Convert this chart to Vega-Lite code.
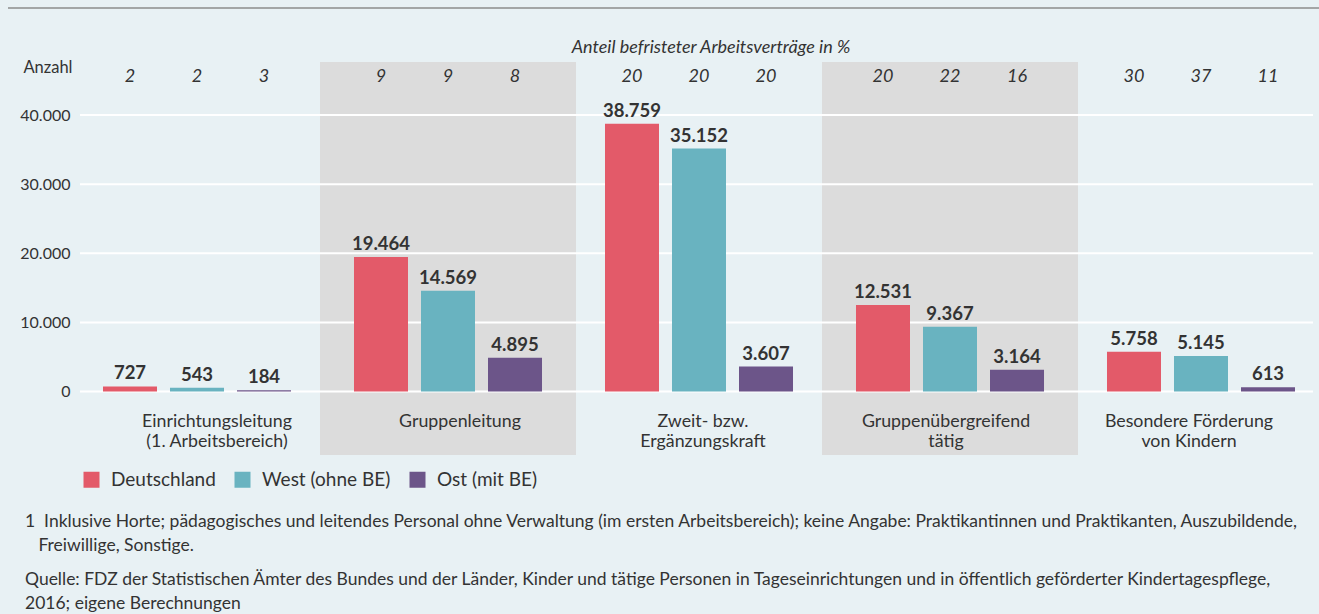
{
  "$schema": "https://vega.github.io/schema/vega-lite/v6.json",
  "width": 1311,
  "height": 447,
  "autosize": {"type": "none"},
  "padding": {"left": 8, "top": 8, "right": 0, "bottom": 159},
  "background": "#e8f1f4",
  "config": {
    "view": {"stroke": null},
    "font": "Lato",
    "locale": {"number": {"decimal": ",", "thousands": ".", "grouping": [3], "currency": ["", " €"]}},
    "text": {"color": "#333333"}
  },
  "datasets": {
    "bars": [
      {"cat": "Einrichtungsleitung|(1. Arbeitsbereich)", "series": "Deutschland", "value": 727, "pct": 2},
      {"cat": "Einrichtungsleitung|(1. Arbeitsbereich)", "series": "West (ohne BE)", "value": 543, "pct": 2},
      {"cat": "Einrichtungsleitung|(1. Arbeitsbereich)", "series": "Ost (mit BE)", "value": 184, "pct": 3},
      {"cat": "Gruppenleitung", "series": "Deutschland", "value": 19464, "pct": 9},
      {"cat": "Gruppenleitung", "series": "West (ohne BE)", "value": 14569, "pct": 9},
      {"cat": "Gruppenleitung", "series": "Ost (mit BE)", "value": 4895, "pct": 8},
      {"cat": "Zweit- bzw.|Ergänzungskraft", "series": "Deutschland", "value": 38759, "pct": 20},
      {"cat": "Zweit- bzw.|Ergänzungskraft", "series": "West (ohne BE)", "value": 35152, "pct": 20},
      {"cat": "Zweit- bzw.|Ergänzungskraft", "series": "Ost (mit BE)", "value": 3607, "pct": 20},
      {"cat": "Gruppenübergreifend|tätig", "series": "Deutschland", "value": 12531, "pct": 20},
      {"cat": "Gruppenübergreifend|tätig", "series": "West (ohne BE)", "value": 9367, "pct": 22},
      {"cat": "Gruppenübergreifend|tätig", "series": "Ost (mit BE)", "value": 3164, "pct": 16},
      {"cat": "Besondere Förderung|von Kindern", "series": "Deutschland", "value": 5758, "pct": 30},
      {"cat": "Besondere Förderung|von Kindern", "series": "West (ohne BE)", "value": 5145, "pct": 37},
      {"cat": "Besondere Förderung|von Kindern", "series": "Ost (mit BE)", "value": 613, "pct": 11}
    ],
    "cats": [
      {"cat": "Einrichtungsleitung|(1. Arbeitsbereich)", "shade": false},
      {"cat": "Gruppenleitung", "shade": true},
      {"cat": "Zweit- bzw.|Ergänzungskraft", "shade": false},
      {"cat": "Gruppenübergreifend|tätig", "shade": true},
      {"cat": "Besondere Förderung|von Kindern", "shade": false}
    ],
    "ticks": [{"v": 0}, {"v": 10000}, {"v": 20000}, {"v": 30000}, {"v": 40000}]
  },
  "title": {
    "text": ["1\u00a0\u00a0Inklusive Horte; pädagogisches und leitendes Personal ohne Verwaltung (im ersten Arbeitsbereich); keine Angabe: Praktikantinnen und Praktikanten, Auszubildende,", "\u200b\u00a0\u00a0\u00a0Freiwillige, Sonstige."],
    "subtitle": ["Quelle: FDZ der Statistischen Ämter des Bundes und der Länder, Kinder und tätige Personen in Tageseinrichtungen und in öffentlich geförderter Kindertagespflege,", "2016; eigene Berechnungen"],
    "orient": "bottom",
    "anchor": "start",
    "frame": "group",
    "dx": 17,
    "offset": 23,
    "baseline": "top",
    "font": "Lato",
    "fontSize": 17.5,
    "fontWeight": "normal",
    "lineHeight": 24,
    "color": "#333333",
    "subtitleFont": "Lato",
    "subtitleFontSize": 17.5,
    "subtitleLineHeight": 24,
    "subtitleColor": "#333333",
    "subtitlePadding": 16
  },
  "layer": [
    {
      "data": {"name": "cats"},
      "transform": [{"filter": "datum.shade"}],
      "mark": {"type": "bar", "color": "#dcdcdc", "width": {"band": 1.02}},
      "encoding": {
        "x": {"field": "cat", "type": "nominal", "scale": {"domain": ["Einrichtungsleitung|(1. Arbeitsbereich)", "Gruppenleitung", "Zweit- bzw.|Ergänzungskraft", "Gruppenübergreifend|tätig", "Besondere Förderung|von Kindern"], "range": [63.5, 1318.5], "paddingInner": 0, "paddingOuter": 0}, "axis": null},
        "y": {"datum": 47685, "type": "quantitative", "scale": {"domain": [-9190, 55499], "nice": false, "zero": false}},
        "y2": {"datum": -9190}
      }
    },
    {
      "data": {"name": "ticks"},
      "mark": {"type": "rule", "color": "#ffffff", "strokeWidth": 2},
      "encoding": {
        "x": {"datum": 0, "type": "quantitative", "scale": {"domain": [0, 1], "range": [72, 1305]}, "axis": null},
        "x2": {"datum": 1},
        "y": {"field": "v", "type": "quantitative"}
      }
    },
    {
      "layer": [
        {
          "data": {"name": "bars"},
          "mark": {"type": "bar"},
          "encoding": {
            "x": {"field": "cat", "type": "nominal", "scale": {"domain": ["Einrichtungsleitung|(1. Arbeitsbereich)", "Gruppenleitung", "Zweit- bzw.|Ergänzungskraft", "Gruppenübergreifend|tätig", "Besondere Förderung|von Kindern"], "range": [63.5, 1318.5], "paddingInner": 0, "paddingOuter": 0}, "axis": null},
            "xOffset": {"field": "series", "type": "nominal", "scale": {"domain": ["Deutschland", "West (ohne BE)", "Ost (mit BE)"], "paddingInner": 0.194, "paddingOuter": 0.47}},
            "y": {"field": "value", "type": "quantitative", "scale": {"domain": [-9190, 55499], "nice": false, "zero": false},
              "axis": {"values": [0, 10000, 20000, 30000, 40000], "labelExpr": "format(datum.value, ',')", "title": "Anzahl", "titleAngle": 0, "titleAlign": "right", "titleBaseline": "middle", "titleX": 0, "titleY": 59, "titleFontWeight": "normal", "titleFontSize": 16.5, "titleColor": "#333333", "titleFont": "Lato", "labelFont": "Lato", "labelFontSize": 16, "labelColor": "#333333", "labelPadding": 2, "labelBaseline": "middle", "offset": -64, "domain": false, "ticks": false, "grid": false}},
            "color": {"field": "series", "type": "nominal", "scale": {"domain": ["Deutschland", "West (ohne BE)", "Ost (mit BE)"], "range": ["#e35a69", "#69b3c0", "#6c5589"]},
              "legend": {"orient": "none", "legendX": 74, "legendY": 462, "direction": "horizontal", "title": null, "symbolType": "square", "symbolSize": 256, "symbolStrokeWidth": 0, "symbolOpacity": 1, "labelFont": "Lato", "labelFontSize": 19, "labelColor": "#333333", "labelOffset": 10, "columnPadding": 17, "padding": 0}}
          }
        },
        {
          "data": {"name": "bars"},
          "mark": {"type": "text", "baseline": "alphabetic", "dy": -7, "fontWeight": "bold", "fontSize": 18.5, "font": "Lato"},
          "encoding": {
            "x": {"field": "cat", "type": "nominal"},
            "xOffset": {"field": "series", "type": "nominal"},
            "y": {"field": "value", "type": "quantitative"},
            "text": {"field": "value", "type": "quantitative", "format": ","}
          }
        },
        {
          "data": {"name": "bars"},
          "mark": {"type": "text", "baseline": "alphabetic", "fontStyle": "italic", "fontSize": 18, "font": "Lato"},
          "encoding": {
            "x": {"field": "cat", "type": "nominal"},
            "xOffset": {"field": "series", "type": "nominal"},
            "y": {"datum": 44790, "type": "quantitative"},
            "text": {"field": "pct", "type": "quantitative"}
          }
        },
        {
          "data": {"values": [{"t": "Anteil befristeter Arbeitsverträge in %"}]},
          "mark": {"type": "text", "baseline": "alphabetic", "fontStyle": "italic", "fontSize": 18, "font": "Lato", "dx": 12},
          "encoding": {
            "x": {"datum": "Zweit- bzw.|Ergänzungskraft", "type": "nominal"},
            "y": {"datum": 48944, "type": "quantitative"},
            "text": {"field": "t", "type": "nominal"}
          }
        }
      ]
    },
    {
      "data": {"values": [{}]},
      "mark": {"type": "rule", "color": "#8c8c8c", "strokeWidth": 1.5},
      "encoding": {"y": {"datum": 55499, "type": "quantitative"}}
    },
    {
      "data": {"name": "cats"},
      "mark": {"type": "text", "lineBreak": "|", "lineHeight": 20.5, "baseline": "alphabetic", "fontSize": 17.8, "font": "Lato"},
      "encoding": {
        "x": {"field": "cat", "type": "nominal", "scale": {"domain": ["Einrichtungsleitung|(1. Arbeitsbereich)", "Gruppenleitung", "Zweit- bzw.|Ergänzungskraft", "Gruppenübergreifend|tätig", "Besondere Förderung|von Kindern"], "range": [87.5, 1302.5], "paddingInner": 0, "paddingOuter": 0}, "axis": null},
        "y": {"datum": -5094, "type": "quantitative"},
        "text": {"field": "cat", "type": "nominal"}
      }
    }
  ],
  "resolve": {"scale": {"x": "independent"}}
}
